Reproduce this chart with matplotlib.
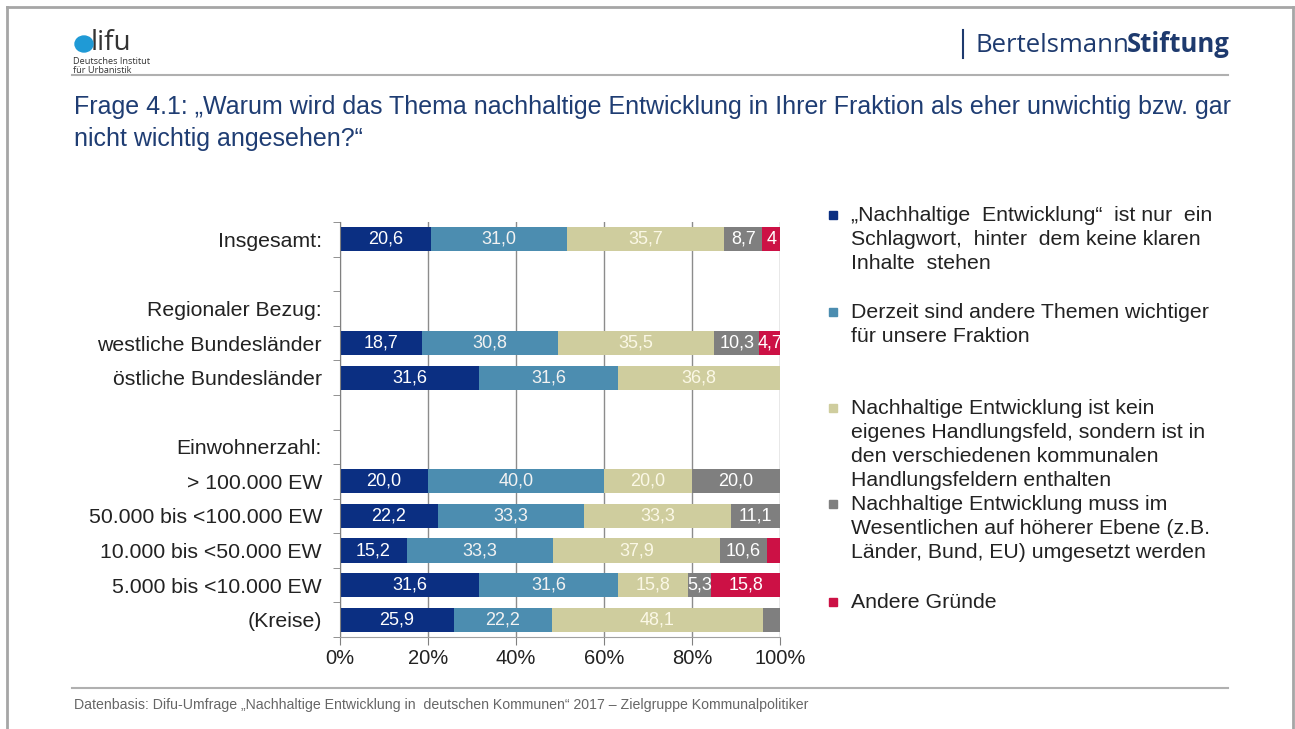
import matplotlib.pyplot as plt
from matplotlib.patches import Ellipse, Rectangle
from matplotlib.lines import Line2D

plt.rcParams['font.family'] = ['Liberation Sans', 'DejaVu Sans']

# Zeilen des Diagramms (leere Strings = Abstand, Überschriften ohne Balken)
categories = ['Insgesamt:', '', 'Regionaler Bezug:', 'westliche Bundesländer',
              'östliche Bundesländer', '', 'Einwohnerzahl:', '> 100.000 EW',
              '50.000 bis <100.000 EW', '10.000 bis <50.000 EW',
              '5.000 bis <10.000 EW', '(Kreise)']

schlagwort = [20.6, 0, 0, 18.7, 31.6, 0, 0, 20.0, 22.2, 15.2, 31.6, 25.9]
andere_themen = [31.0, 0, 0, 30.8, 31.6, 0, 0, 40.0, 33.3, 33.3, 31.6, 22.2]
kein_feld = [35.7, 0, 0, 35.5, 36.8, 0, 0, 20.0, 33.3, 37.9, 15.8, 48.1]
hoehere_ebene = [8.7, 0, 0, 10.3, 0, 0, 0, 20.0, 11.1, 10.6, 5.3, 3.7]
andere_gruende = [4.0, 0, 0, 4.7, 0, 0, 0, 0, 0, 3.0, 15.8, 0]

# Werte, die im Balken beschriftet werden (None = keine Beschriftung)
labels = [
    ['20,6', '31,0', '35,7', '8,7', '4'],
    None, None,
    ['18,7', '30,8', '35,5', '10,3', '4,7'],
    ['31,6', '31,6', '36,8', '', ''],
    None, None,
    ['20,0', '40,0', '20,0', '20,0', ''],
    ['22,2', '33,3', '33,3', '11,1', ''],
    ['15,2', '33,3', '37,9', '10,6', ''],
    ['31,6', '31,6', '15,8', '5,3', '15,8'],
    ['25,9', '22,2', '48,1', '', ''],
]

legend_texts = [
    '„Nachhaltige  Entwicklung“  ist nur  ein\nSchlagwort,  hinter  dem keine klaren\nInhalte  stehen',
    'Derzeit sind andere Themen wichtiger\nfür unsere Fraktion',
    'Nachhaltige Entwicklung ist kein\neigenes Handlungsfeld, sondern ist in\nden verschiedenen kommunalen\nHandlungsfeldern enthalten',
    'Nachhaltige Entwicklung muss im\nWesentlichen auf höherer Ebene (z.B.\nLänder, Bund, EU) umgesetzt werden',
    'Andere Gründe',
]
colors = ['#0b2f82', '#4c8db0', '#cfcd9e', '#7f7f7f', '#cc1145']
label_colors = ['white', '#f2f2f2', '#fbf8e6', 'white', 'white']

W, H = 1295, 729
fig = plt.figure(figsize=(W / 100, H / 100), dpi=100)


def fx(x):
    return x / W


def fy(y):
    return 1 - y / H


# Rahmen der Folie
for (x0, y0, x1, y1) in [(7, 7, 1293, 7), (7, 7, 7, 729), (1293, 7, 1293, 729)]:
    fig.add_artist(Line2D([fx(x0), fx(x1)], [fy(y0), fy(y1)], color='#a6a6a6', lw=2))
# Kopf- und Fußlinie
fig.add_artist(Line2D([fx(72), fx(1228)], [fy(75), fy(75)], color='#b0b0b0', lw=1.5))
fig.add_artist(Line2D([fx(72), fx(1228)], [fy(688), fy(688)], color='#b0b0b0', lw=1.5))

# difu-Logo
fig.add_artist(Ellipse((fx(84), fy(44)), 18 / W, 16 / H, transform=fig.transFigure,
                       color='#1f9ad6', zorder=5))
fig.text(fx(91), fy(50), 'lifu', fontsize=20, color='#333333', va='baseline', ha='left',
         family=['Open Sans', 'DejaVu Sans'])
fig.text(fx(73), fy(57), 'Deutsches Institut\nfür Urbanistik', fontsize=6.6,
         color='#333333', va='top', ha='left', linespacing=1.0,
         family=['Open Sans', 'DejaVu Sans'])

# Bertelsmann-Logo
fig.add_artist(Line2D([fx(963), fx(963)], [fy(30), fy(58)], color='#1e3a6e', lw=1.5))
t = fig.text(fx(975), fy(52), 'Bertelsmann', fontsize=18.5, color='#1e3a6e',
             va='baseline', ha='left', family=['Open Sans', 'DejaVu Sans'])
fig.canvas.draw()
bb = t.get_window_extent()
fig.text((bb.x1 - 2) / W, fy(52), 'Stiftung', fontsize=18.5, color='#1e3a6e', va='baseline',
         ha='left', weight='bold', family=['Open Sans', 'DejaVu Sans'])

# Titel
fig.text(fx(74), fy(95), 'Frage 4.1: „Warum wird das Thema nachhaltige Entwicklung in Ihrer Fraktion '
         'als eher unwichtig bzw. gar\nnicht wichtig angesehen?“',
         fontsize=18, color='#1f3d73', va='top', ha='left', linespacing=1.4)

# Quelle
fig.text(fx(74), fy(705), 'Datenbasis: Difu-Umfrage „Nachhaltige Entwicklung in  deutschen Kommunen“ '
         '2017 – Zielgruppe Kommunalpolitiker',
         fontsize=10.2, color='#666666', va='center', ha='left')

# Diagramm
ax = fig.add_axes([fx(340), fy(637), fx(780) - fx(340), (637 - 222) / H])
series = [schlagwort, andere_themen, kein_feld, hoehere_ebene, andere_gruende]
y = list(range(len(categories)))
left = [0.0] * len(categories)
for k, vals in enumerate(series):
    ax.barh(y, vals, left=left, height=0.7, color=colors[k], zorder=2)
    for i, v in enumerate(vals):
        if labels[i] is not None and labels[i][k] and v > 0:
            ax.text(left[i] + v / 2, i, labels[i][k], ha='center', va='center',
                    fontsize=13, color=label_colors[k], zorder=3)
    left = [a + b for a, b in zip(left, vals)]

ax.set_xlim(0, 100)
ax.set_ylim(len(categories) - 0.5, -0.5)
ax.set_xticks([0, 20, 40, 60, 80, 100])
ax.set_xticklabels(['0%', '20%', '40%', '60%', '80%', '100%'])
ax.set_yticks(y)
ax.set_yticklabels(categories)
ax.set_yticks([i - 0.5 for i in range(len(categories) + 1)], minor=True)
ax.tick_params(axis='y', which='major', length=0, pad=13, labelsize=15.3, labelcolor='#222222')
ax.tick_params(axis='y', which='minor', length=5, color='#808080', direction='out')
ax.tick_params(axis='x', length=6, color='#808080', labelsize=14.5, labelcolor='#222222', pad=3)
ax.grid(axis='x', color='#8c8c8c', lw=1, zorder=0)
for s in ['top', 'right']:
    ax.spines[s].set_visible(False)
ax.spines['left'].set_color('#808080')
ax.spines['bottom'].set_color('#a0a0a0')

# Legende
legend_y = [215, 312, 408, 504, 602]
for k, txt in enumerate(legend_texts):
    fig.add_artist(Rectangle((fx(829), fy(legend_y[k]) - 4 / H), 8 / W, 8 / H,
                             transform=fig.transFigure, color=colors[k]))
    fig.text(fx(851), fy(legend_y[k] - 9), txt, fontsize=15.3, color='#222222',
             va='top', ha='left', linespacing=1.34)

fig.savefig('out.png', dpi=100)
